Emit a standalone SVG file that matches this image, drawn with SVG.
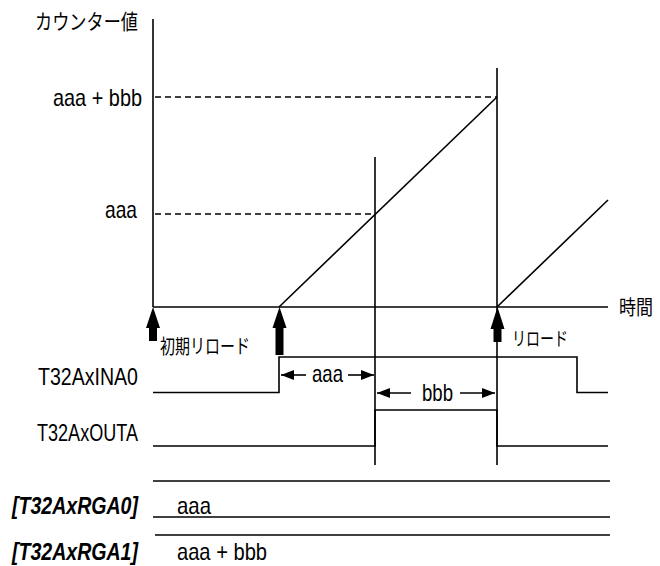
<svg xmlns="http://www.w3.org/2000/svg" width="660" height="566" viewBox="0 0 660 566">
<style>
.ln{stroke:#000;stroke-width:1.6;fill:none}
.dash{stroke:#000;stroke-width:1.4;fill:none;stroke-dasharray:6 4}
.t{font-family:"Liberation Sans",Arial,sans-serif;font-size:24px;fill:#000}
.tb{font-family:"Liberation Sans",Arial,sans-serif;font-size:24px;font-weight:bold;font-style:italic;fill:#000}
.j{font-family:"Noto Sans CJK JP",sans-serif;fill:#000}
.big{fill:#000;stroke:none}
</style>
<defs>
<marker id="ah" markerUnits="userSpaceOnUse" markerWidth="14" markerHeight="12" refX="13" refY="5" orient="auto">
<path d="M0,0 L13,5 L0,10 z" fill="#000"/>
</marker>
</defs>
<g id="axes">
<line class="ln" x1="153" y1="19" x2="153" y2="307"/>
<line class="ln" x1="153" y1="307" x2="608" y2="307"/>
<text class="j" x="35" y="29" font-size="21" textLength="103" lengthAdjust="spacingAndGlyphs">カウンター値</text>
<text class="j" x="619" y="315" font-size="20" textLength="34" lengthAdjust="spacingAndGlyphs">時間</text>
<text class="t" x="53" y="106" textLength="89" lengthAdjust="spacingAndGlyphs">aaa + bbb</text>
<text class="t" x="105" y="218" textLength="32" lengthAdjust="spacingAndGlyphs">aaa</text>
</g>
<g id="connectors">
<line class="dash" x1="155" y1="97" x2="497" y2="97"/>
<line class="dash" x1="155" y1="214" x2="375" y2="214"/>
<line class="ln" x1="279" y1="307" x2="497" y2="97"/>
<line class="ln" x1="497" y1="307" x2="608" y2="200"/>
<line class="ln" x1="375" y1="157" x2="375" y2="465"/>
<line class="ln" x1="497" y1="68" x2="497" y2="465"/>
</g>
<g id="reload-arrows">
<polygon class="big" points="153,307 160,328 157,328 157,341 149,341 149,328 146,328"/>
<polygon class="big" points="279.5,307 286.5,328 283.5,328 283.5,355 275.5,355 275.5,328 272.5,328"/>
<polygon class="big" points="497.5,307 504.5,329 501.5,329 501.5,342 493.5,342 493.5,329 490.5,329"/>
<text class="j" x="160" y="354" font-size="20" textLength="90" lengthAdjust="spacingAndGlyphs">初期リロード</text>
<text class="j" x="512" y="346" font-size="19" textLength="56" lengthAdjust="spacingAndGlyphs">リロード</text>
</g>
<g id="ina0">
<text class="t" x="38" y="385" textLength="100" lengthAdjust="spacingAndGlyphs">T32AxINA0</text>
<polyline class="ln" points="153,392.5 279,392.5 279,357 577,357 577,392.5 608,392.5"/>
</g>
<g id="dim-aaa">
<line class="ln" x1="306" y1="375" x2="281" y2="375" marker-end="url(#ah)"/>
<line class="ln" x1="348" y1="375" x2="374" y2="375" marker-end="url(#ah)"/>
<text class="t" x="312" y="382" font-size="23" textLength="31" lengthAdjust="spacingAndGlyphs">aaa</text>
</g>
<g id="dim-bbb">
<line class="ln" x1="411" y1="393" x2="377" y2="393" marker-end="url(#ah)"/>
<line class="ln" x1="460" y1="393" x2="495" y2="393" marker-end="url(#ah)"/>
<text class="t" x="422" y="401" font-size="23" textLength="31" lengthAdjust="spacingAndGlyphs">bbb</text>
</g>
<g id="outa">
<text class="t" x="37" y="441" textLength="101" lengthAdjust="spacingAndGlyphs">T32AxOUTA</text>
<polyline class="ln" points="153,446 375,446 375,410 497,410 497,446 608,446"/>
</g>
<g id="rga0">
<text class="tb" x="12" y="514" textLength="126" lengthAdjust="spacingAndGlyphs">[T32AxRGA0]</text>
<line class="ln" x1="153" y1="481" x2="610" y2="481"/>
<line class="ln" x1="153" y1="517" x2="610" y2="517"/>
<text class="t" x="177" y="514" font-size="23" textLength="34" lengthAdjust="spacingAndGlyphs">aaa</text>
</g>
<g id="rga1">
<text class="tb" x="12" y="560" textLength="126" lengthAdjust="spacingAndGlyphs">[T32AxRGA1]</text>
<line class="ln" x1="155" y1="535" x2="610" y2="535"/>
<text class="t" x="177" y="560" font-size="23" textLength="90" lengthAdjust="spacingAndGlyphs">aaa + bbb</text>
</g>
</svg>
